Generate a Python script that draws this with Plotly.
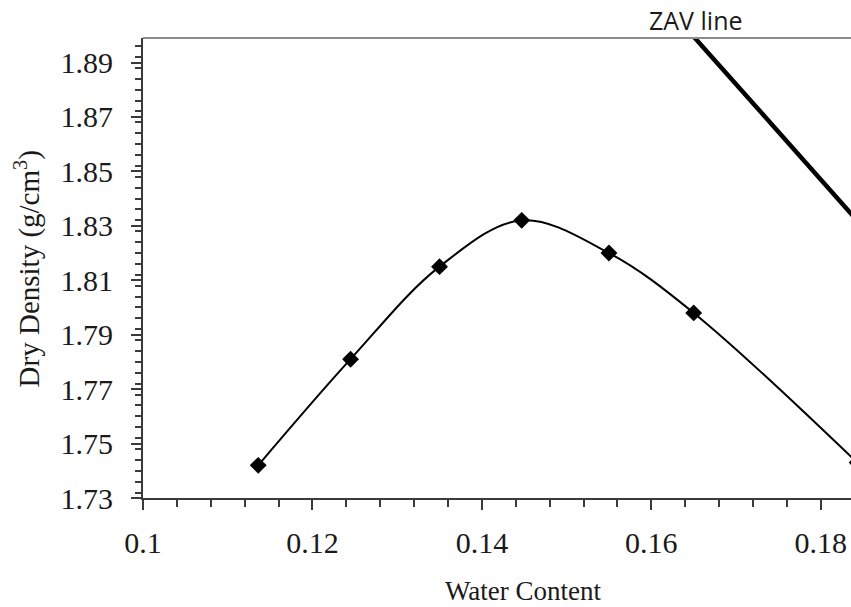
import plotly.graph_objects as go

# Compaction test results: water content vs dry density
water_content = [0.1136, 0.1245, 0.1350, 0.1447, 0.1550, 0.1650, 0.1843]
dry_density = [1.742, 1.781, 1.815, 1.832, 1.820, 1.798, 1.743]

# Zero-air-voids line
zav_water = [0.160, 0.170, 0.180, 0.190]
zav_density = [1.917, 1.882, 1.847, 1.812]

x_range = [0.1, 0.18357]
y_range = [1.73, 1.899]

serif = "Liberation Serif, Times New Roman, serif"
axis_col = "#3a3a3a"
text_col = "#1a1a1a"

fig = go.Figure()

fig.add_trace(go.Scatter(
    x=water_content, y=dry_density,
    mode="lines+markers",
    line=dict(color="black", width=2, shape="spline", smoothing=1.0),
    marker=dict(symbol="diamond", size=13, color="black"),
    showlegend=False,
))

fig.add_trace(go.Scatter(
    x=zav_water, y=zav_density,
    mode="lines",
    line=dict(color="black", width=4.5),
    showlegend=False,
))

fig.add_annotation(
    text="ZAV line", x=0.16529, xref="x", y=1.039, yref="paper",
    xanchor="center", yanchor="middle", showarrow=False,
    font=dict(family="Open Sans", size=25, color=text_col),
)

# axis titles
fig.add_annotation(
    text="Water Content", x=0.538, xref="paper", y=-0.203, yref="paper",
    xanchor="center", yanchor="middle", showarrow=False,
    font=dict(family=serif, size=27, color=text_col),
)
fig.add_annotation(
    text="Dry Density (g/cm<sup>3</sup>)", x=-0.1638, xref="paper",
    y=0.497, yref="paper", textangle=-90,
    xanchor="center", yanchor="middle", showarrow=False,
    font=dict(family=serif, size=29, color=text_col),
)

# gray frame line along the top of the plot area
fig.add_shape(type="line", xref="paper", yref="paper",
              x0=0, x1=1, y0=1, y1=1,
              line=dict(color="#8c8c8c", width=2))

fig.update_layout(
    width=851, height=607,
    margin=dict(l=143, r=0, t=38, b=109),
    paper_bgcolor="white", plot_bgcolor="white",
    xaxis=dict(
        range=x_range, tick0=0.1, dtick=0.02,
        showgrid=False, zeroline=False,
        showline=True, linecolor=axis_col, linewidth=2,
        ticks="outside", ticklen=10, tickwidth=1.5, tickcolor=axis_col,
        minor=dict(dtick=0.004, ticks="outside", ticklen=7,
                   tickwidth=1.5, tickcolor=axis_col, showgrid=False),
        tickfont=dict(family=serif, size=30, color=text_col),
        ticklabelstandoff=7,
    ),
    yaxis=dict(
        range=y_range, tick0=1.73, dtick=0.02,
        showgrid=False, zeroline=False,
        showline=True, linecolor=axis_col, linewidth=2,
        ticks="outside", ticklen=10, tickwidth=1.5, tickcolor=axis_col,
        minor=dict(dtick=0.004, ticks="outside", ticklen=6,
                   tickwidth=1.5, tickcolor=axis_col, showgrid=False),
        tickfont=dict(family=serif, size=30, color=text_col),
        ticklabelstandoff=12,
    ),
)

fig.write_html("out.html")
